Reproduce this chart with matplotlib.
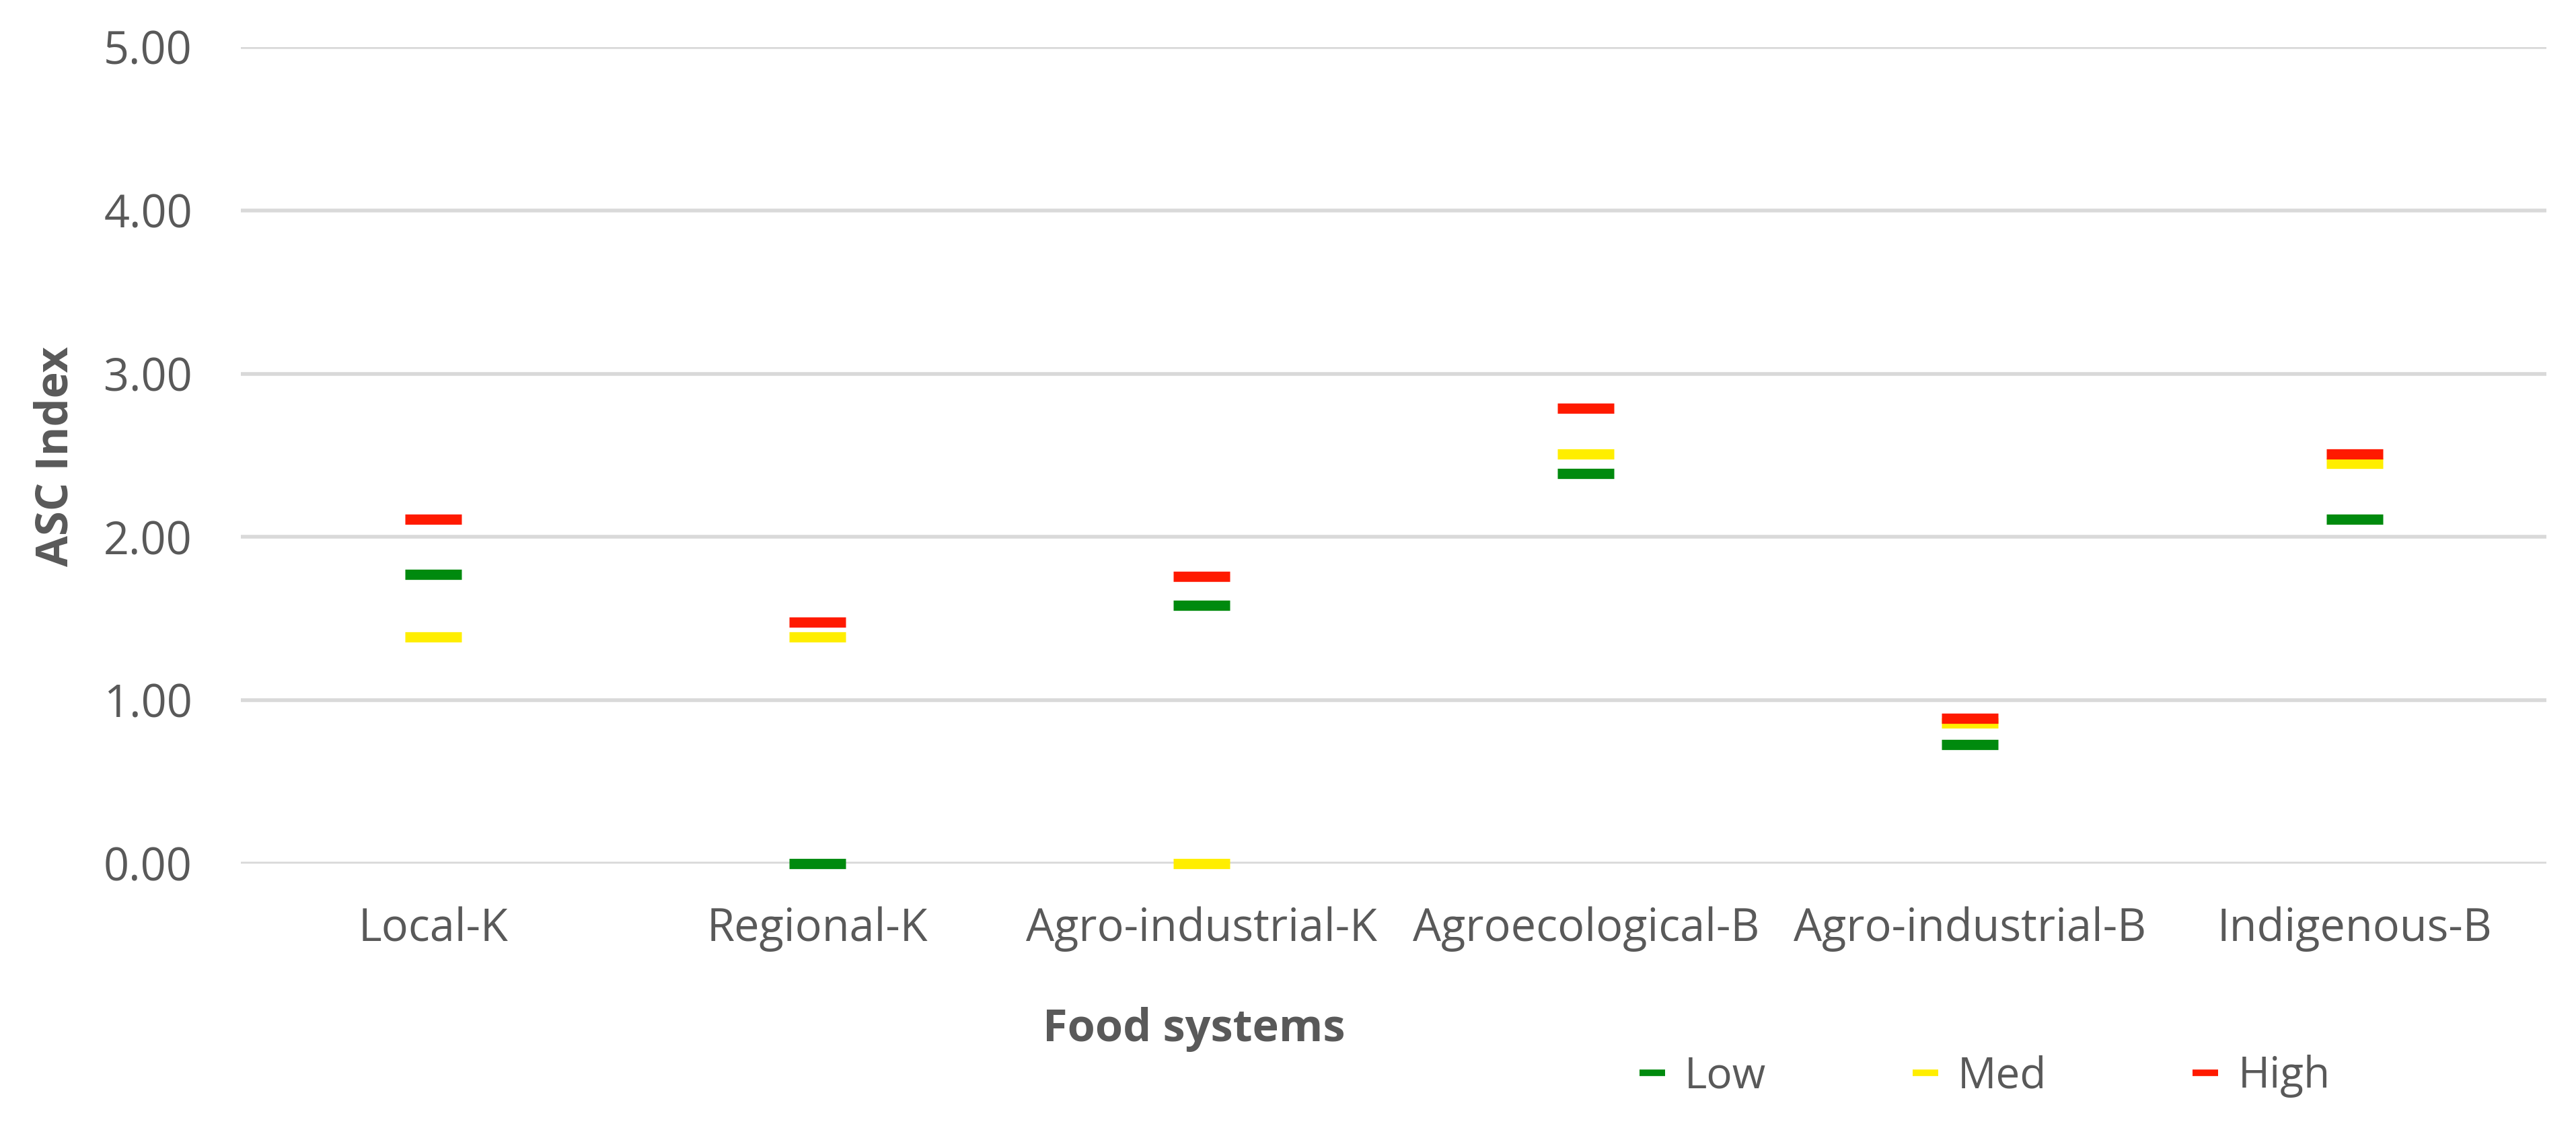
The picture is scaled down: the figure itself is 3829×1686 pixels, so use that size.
import matplotlib
matplotlib.use("Agg")
import matplotlib.pyplot as plt
from matplotlib.lines import Line2D
from matplotlib.ticker import FormatStrFormatter

plt.rcParams['font.family'] = ['Open Sans', 'DejaVu Sans']

# data
systems = ['Local-K', 'Regional-K', 'Agro-industrial-K', 'Agroecological-B',
           'Agro-industrial-B', 'Indigenous-B']
low = [1.77, 0.00, 1.58, 2.39, 0.73, 2.11]
med = [1.39, 1.39, 0.00, 2.51, 0.86, 2.45]
high = [2.11, 1.48, 1.76, 2.79, 0.89, 2.51]
series_names = ['Low', 'Med', 'High']
series_colors = ['#008a0e', '#ffee00', '#ff1a00']

text_col = '#595959'

fig = plt.figure(figsize=(38.3, 16.86), dpi=100)
ax = fig.add_axes([0.0935, 0.2384, 0.8948, 0.7201])

x = list(range(len(systems)))
for vals, c in zip([low, med, high], series_colors):
    ax.plot(x, vals, linestyle='none', marker='_', markersize=60,
            markeredgewidth=11, color=c, zorder=3, clip_on=False)

ax.set_xlim(-0.5, len(systems) - 0.5)
ax.set_ylim(0, 5)
ax.set_yticks([0, 1, 2, 3, 4, 5])
ax.yaxis.set_major_formatter(FormatStrFormatter('%.2f'))
ax.set_xticks(x)
ax.set_xticklabels(systems)

ax.grid(axis='y', color='#d9d9d9', linewidth=4, zorder=0)
ax.set_axisbelow(True)
for s in ax.spines.values():
    s.set_visible(False)
ax.tick_params(axis='y', length=0, pad=52, labelsize=48, labelcolor=text_col)
ax.tick_params(axis='x', length=0, pad=46, labelsize=48, labelcolor=text_col)

fig.text(0.0217, 1 - 679 / 1686, 'ASC Index', rotation=90, ha='center',
         va='center', fontsize=48, fontweight='bold', color=text_col)
fig.text(0.4634, 1 - 1530 / 1686, 'Food systems', ha='center', va='center',
         fontsize=48, fontweight='bold', color=text_col)

handles = [Line2D([], [], linestyle='none', marker='_', markersize=28,
                  markeredgewidth=7, color=c) for c in series_colors]
fig.legend(handles, series_names, loc='center left',
           bbox_to_anchor=(2437 / 3830, 1 - 1600 / 1686), ncol=3,
           frameon=False, fontsize=46, labelcolor=text_col,
           handlelength=0.6, handletextpad=0.45, columnspacing=3.4,
           borderpad=0, borderaxespad=0)

fig.savefig('out.png', dpi=100)
